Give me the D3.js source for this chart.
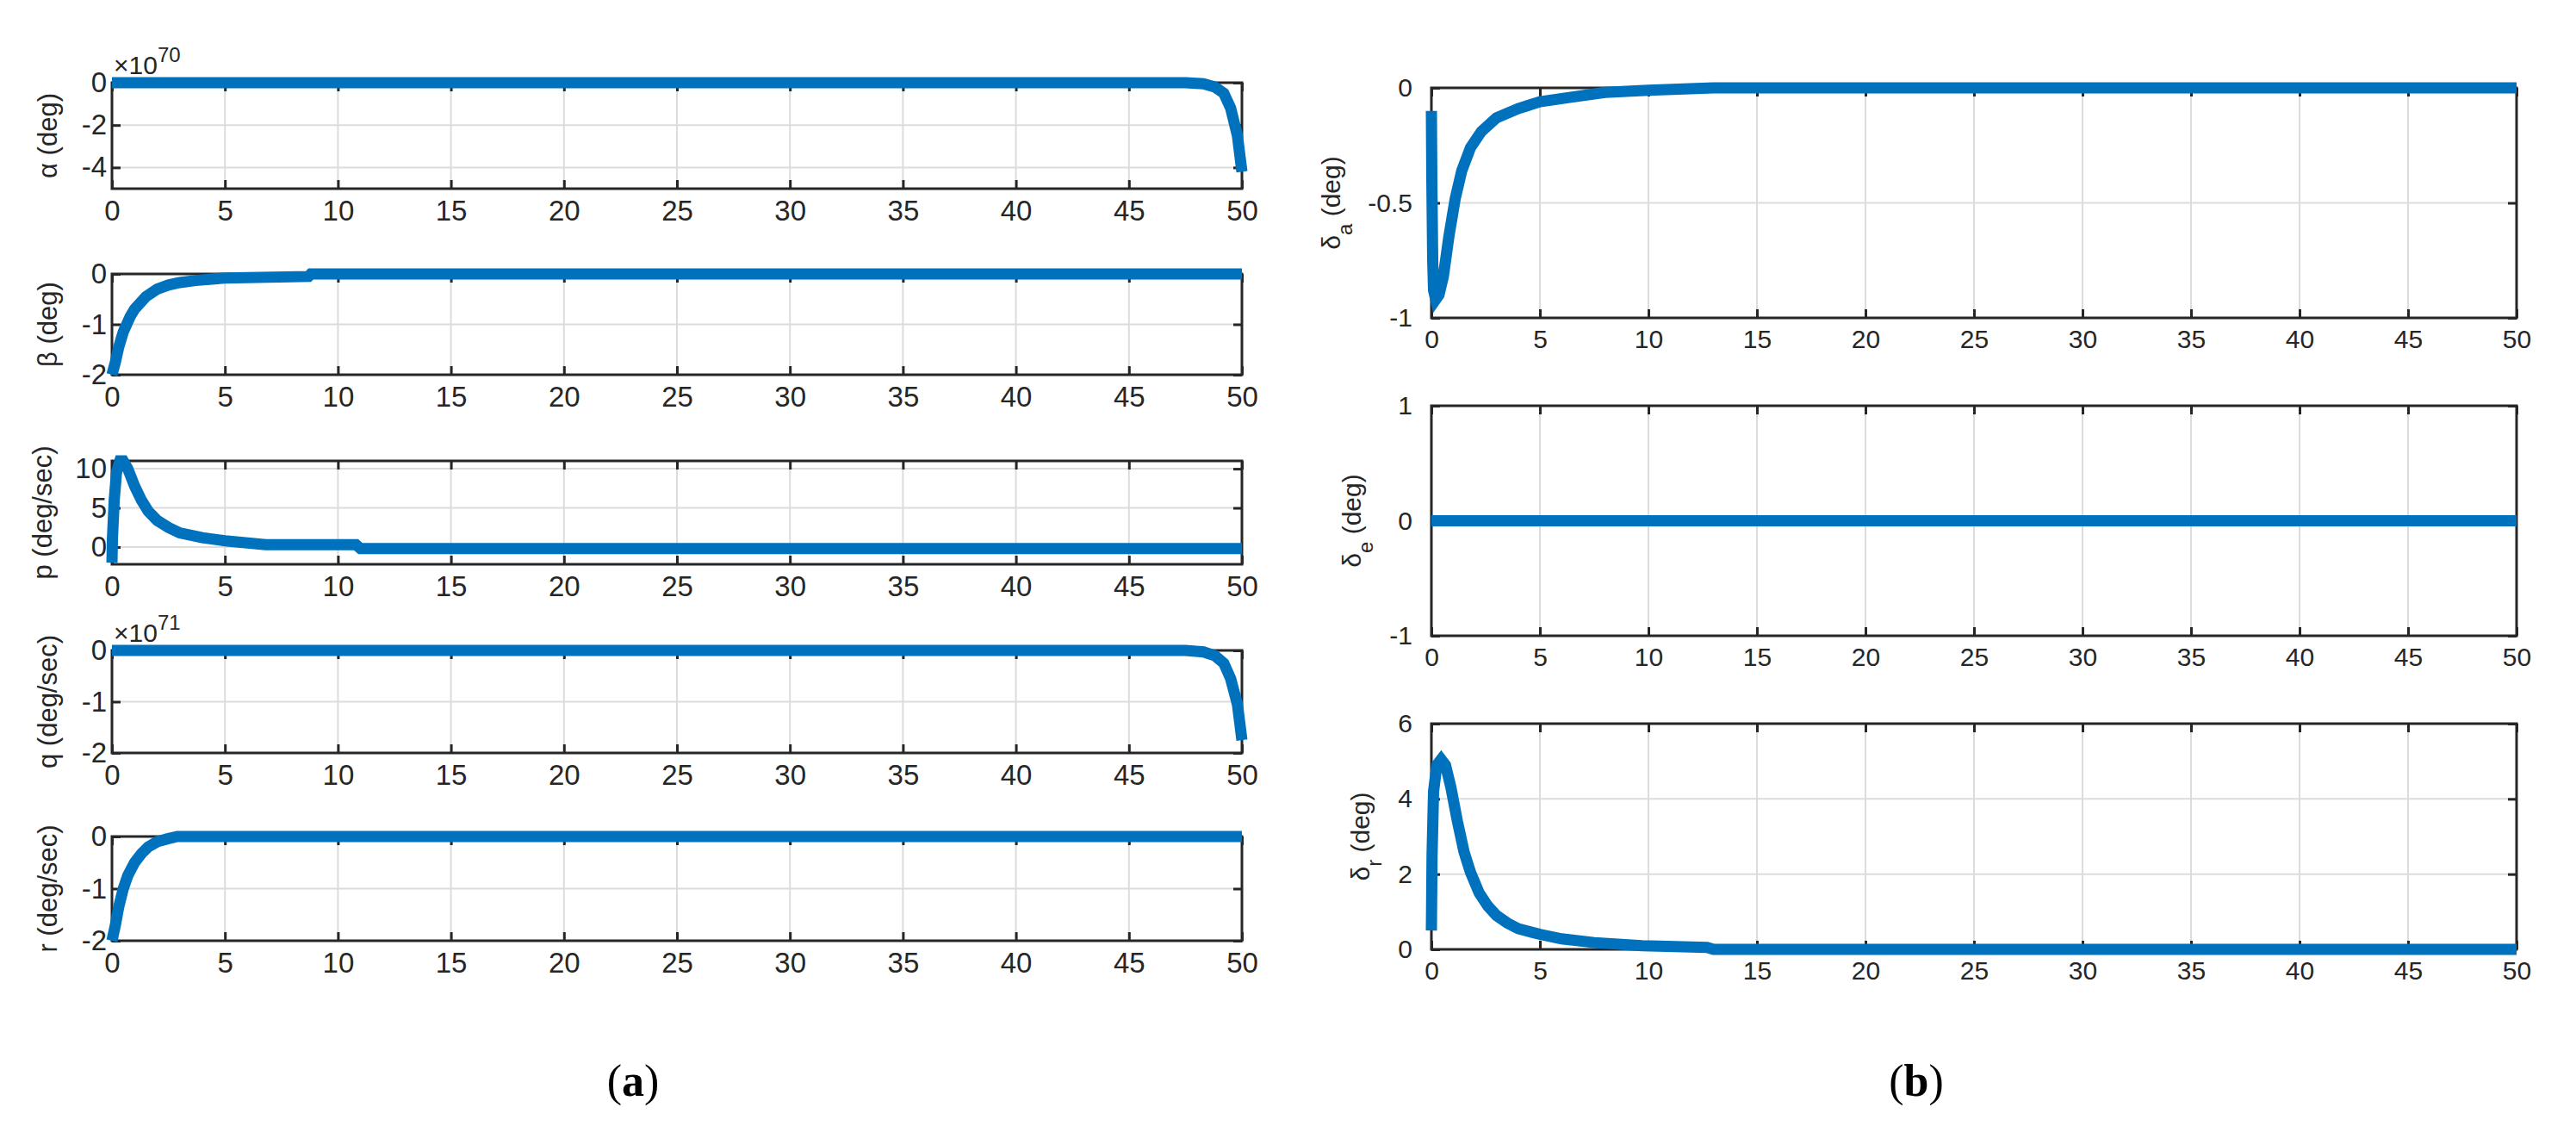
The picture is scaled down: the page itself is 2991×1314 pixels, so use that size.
<!DOCTYPE html>
<html>
<head>
<meta charset="utf-8">
<script src="https://cdn.jsdelivr.net/npm/d3@7"></script>
<style>
  body { margin: 0; background: #fff; }
  text { font-family: "Liberation Sans", Arial, sans-serif; fill: #262626; }
  .grid line { stroke: #dcdcdc; stroke-width: 2; }
  .frame { fill: none; stroke: #262626; stroke-width: 3; }
  .tick line { stroke: #262626; stroke-width: 3; }
  .curve { fill: none; stroke: #0072BD; stroke-width: 13; stroke-linejoin: miter; }
  .cap { font-family: "Liberation Serif", serif; font-size: 52px; fill: #000; }
</style>
</head>
<body>
<div id="chart"></div>
<script>
// time values and series
const xTicks = [0, 5, 10, 15, 20, 25, 30, 35, 40, 45, 50];

const alphaT = [0, 47.5, 48.3, 48.8, 49.2, 49.5, 49.8, 50];
const alphaV = [0, 0, -0.05, -0.2, -0.5, -1.2, -2.5, -4.2];          // x 1e70

const betaT = [0, 0.15, 0.3, 0.5, 0.8, 1, 1.5, 2, 2.5, 3, 3.7, 5, 8.7, 8.8, 50];
const betaV = [-2, -1.75, -1.45, -1.15, -0.85, -0.7, -0.45, -0.3, -0.22, -0.17, -0.13, -0.08, -0.05, 0, 0];

const pT = [0, 0.02, 0.1, 0.2, 0.35, 0.5, 0.7, 1, 1.3, 1.6, 2, 2.5, 3, 4, 5, 6.8, 10.8, 11, 50];
const pV = [-2, 1, 6, 9.5, 11, 11, 10, 7.8, 6, 4.6, 3.4, 2.5, 1.8, 1.2, 0.8, 0.3, 0.3, -0.2, -0.2];

const qT = [0, 47.5, 48.3, 48.8, 49.2, 49.5, 49.8, 50];
const qV = [0, 0, -0.03, -0.1, -0.25, -0.55, -1.05, -1.75];          // x 1e71

const rT = [0, 0.15, 0.3, 0.5, 0.7, 1, 1.3, 1.6, 2, 2.5, 2.9, 50];
const rV = [-2, -1.7, -1.35, -1, -0.75, -0.5, -0.33, -0.2, -0.1, -0.04, 0, 0];

const daT = [0, 0.02, 0.06, 0.1, 0.2, 0.35, 0.55, 0.8, 1.1, 1.4, 1.8, 2.3, 3, 4, 5, 6.5, 8, 10, 13, 50];
const daV = [-0.1, -0.4, -0.75, -0.88, -0.92, -0.9, -0.82, -0.65, -0.48, -0.36, -0.26, -0.19, -0.13, -0.09, -0.06, -0.04, -0.02, -0.01, 0, 0];

const deT = [0, 50];
const deV = [0, 0];

const drT = [0, 0.03, 0.1, 0.25, 0.45, 0.65, 0.9, 1.2, 1.5, 1.8, 2.2, 2.6, 3, 3.5, 4, 5, 6, 7.5, 9.7, 12.7, 13, 50];
const drV = [0.5, 2.5, 4.2, 4.9, 5.05, 4.9, 4.3, 3.4, 2.6, 2.05, 1.5, 1.15, 0.9, 0.7, 0.55, 0.4, 0.28, 0.18, 0.1, 0.05, 0, 0];

const width = 2991, height = 1314;
const svg = d3.select("#chart").append("svg")
	.attr("width", width).attr("height", height);

// layout of each subplot
const panels = [
	{ t: alphaT, v: alphaV, x0: 130, x1: 1442, y0: 96, y1: 219, dom: [-5, 0], yt: [-4, -2, 0], label: "α (deg)", lx: 66, exp: "70" },
	{ t: betaT, v: betaV, x0: 130, x1: 1442, y0: 318, y1: 435, dom: [-2, 0], yt: [-2, -1, 0], label: "β (deg)", lx: 66 },
	{ t: pT, v: pV, x0: 130, x1: 1442, y0: 535, y1: 655, dom: [-2.2, 11], yt: [0, 5, 10], label: "p (deg/sec)", lx: 60 },
	{ t: qT, v: qV, x0: 130, x1: 1442, y0: 755, y1: 874, dom: [-2, 0], yt: [-2, -1, 0], label: "q (deg/sec)", lx: 66, exp: "71" },
	{ t: rT, v: rV, x0: 130, x1: 1442, y0: 971, y1: 1092, dom: [-2, 0], yt: [-2, -1, 0], label: "r (deg/sec)", lx: 66 },
	{ t: daT, v: daV, x0: 1662, x1: 2922, y0: 102, y1: 369, dom: [-1, 0], yt: [-1, -0.5, 0], label: "a", lx: 1556, delta: true },
	{ t: deT, v: deV, x0: 1662, x1: 2922, y0: 471, y1: 738, dom: [-1, 1], yt: [-1, 0, 1], label: "e", lx: 1580, delta: true },
	{ t: drT, v: drV, x0: 1662, x1: 2922, y0: 840, y1: 1102, dom: [0, 6], yt: [0, 2, 4, 6], label: "r", lx: 1590, delta: true }
];

const fmt = (d) => String(d);

panels.forEach((p) => {
	const x = d3.scaleLinear().domain([0, 50]).range([p.x0, p.x1]);
	const y = d3.scaleLinear().domain(p.dom).range([p.y1, p.y0]);
	const g = svg.append("g");
	const right = p.x0 > 1000;
	const fs = right ? 30 : 33;

	// grid
	const grid = g.append("g").attr("class", "grid");
	grid.selectAll(".gx").data(xTicks.slice(1, -1)).enter().append("line")
		.attr("x1", (d) => x(d)).attr("x2", (d) => x(d)).attr("y1", p.y0).attr("y2", p.y1);
	grid.selectAll(".gy").data(p.yt.filter((d) => y(d) > p.y0 + 1 && y(d) < p.y1 - 1)).enter().append("line")
		.attr("x1", p.x0).attr("x2", p.x1).attr("y1", (d) => y(d)).attr("y2", (d) => y(d));

	// axes with inward ticks
	g.append("g").attr("transform", `translate(0,${p.y1})`)
		.call(d3.axisBottom(x).tickValues(xTicks).tickFormat(fmt).tickSize(-10).tickPadding(14));
	g.append("g").attr("transform", `translate(0,${p.y0})`)
		.call(d3.axisTop(x).tickValues(xTicks).tickSize(-10).tickFormat(""));
	g.append("g").attr("transform", `translate(${p.x0},0)`)
		.call(d3.axisLeft(y).tickValues(p.yt).tickFormat(fmt).tickSize(-10).tickPadding(right ? 22 : 6));
	g.append("g").attr("transform", `translate(${p.x1},0)`)
		.call(d3.axisRight(y).tickValues(p.yt).tickSize(-10).tickFormat(""));
	g.selectAll(".domain").remove();
	g.selectAll(".tick text").attr("font-size", fs).style("font-family", "Liberation Sans, Arial, sans-serif").attr("fill", "#262626");

	g.append("rect").attr("class", "frame")
		.attr("x", p.x0).attr("y", p.y0).attr("width", p.x1 - p.x0).attr("height", p.y1 - p.y0);

	// exponent
	if (p.exp) {
		const e = g.append("text").attr("x", p.x0 + 2).attr("y", p.y0 - 10).attr("font-size", 30).attr("fill", "#555");
		e.append("tspan").text("×10");
		e.append("tspan").attr("dy", -14).attr("font-size", 24).text(p.exp);
	}

	// y label
	const cy = (p.y0 + p.y1) / 2;
	const lab = g.append("text").attr("transform", `translate(${p.lx},${cy}) rotate(-90)`)
		.attr("text-anchor", "middle").attr("font-size", right ? 30 : 31);
	if (p.delta) {
		lab.append("tspan").text("δ");
		lab.append("tspan").attr("dy", 14).attr("font-size", 24).text(p.label);
		lab.append("tspan").attr("dy", -14).text(" (deg)");
	} else {
		lab.text(p.label);
	}

	const line = d3.line().x((d, i) => x(p.t[i])).y((d) => y(d));
	g.append("path").attr("class", "curve").attr("d", line(p.v));
});

const cap = [{ t: "a", x: 735 }, { t: "b", x: 2225 }];
svg.selectAll(".cap").data(cap).enter().append("text")
	.attr("class", "cap").attr("x", (d) => d.x).attr("y", 1272).attr("text-anchor", "middle")
	.html((d) => `(<tspan font-weight="bold">${d.t}</tspan>)`);
</script>
</body>
</html>
